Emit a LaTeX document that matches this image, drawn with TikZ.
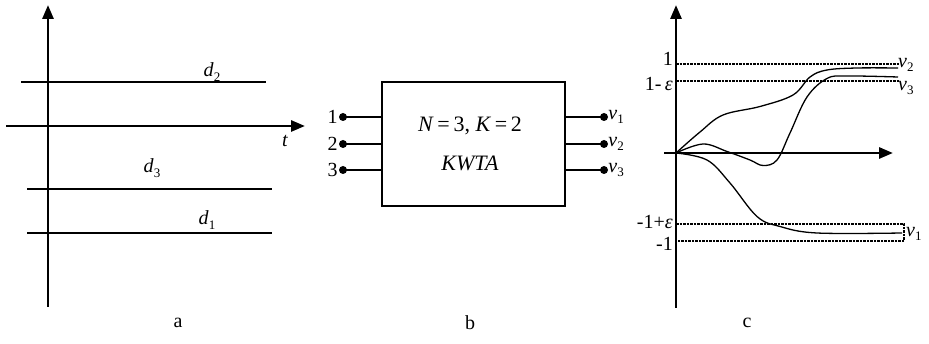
\documentclass[tikz,border=0pt]{standalone}
\usepackage{fontspec}
\setmainfont{Liberation Serif}
\usetikzlibrary{arrows.meta}
\newcommand\lowsub[1]{\raisebox{-0.22em}{\fontsize{13}{13}\selectfont #1}}
\begin{document}
\begin{tikzpicture}[x=1pt,y=-1pt,
  axis/.style={line width=2.8pt,-{Triangle[length=14pt,width=11pt]}},
  level/.style={line width=1.3pt},
  pin/.style={line width=2.8pt},
  dot/.style={circle,fill,inner sep=0pt,minimum size=8pt},
  lab/.style={inner sep=0pt,font=\fontsize{20}{22}\selectfont},
  big/.style={inner sep=0pt,font=\fontsize{22}{24}\selectfont},
  curve/.style={line width=1.3pt},
  dotline/.style={line width=1.2pt,dash pattern=on 2.5pt off 1pt},
]
\useasboundingbox (0,0) rectangle (929,344);
% ---------- panel a ----------
\coordinate (aB) at (48,307);
\coordinate (aT) at (48,5);
\coordinate (aL) at (6,126);
\coordinate (aR) at (305,126);
\draw[axis] (aB) -- (aT);
\draw[axis] (aL) -- (aR);
\coordinate (d2L) at (21,82);  \coordinate (d2R) at (266,82);
\coordinate (d3L) at (27,189); \coordinate (d3R) at (272,189);
\coordinate (d1L) at (27,233); \coordinate (d1R) at (272,233);
\draw[level] (d2L) -- (d2R);
\draw[level] (d3L) -- (d3R);
\draw[level] (d1L) -- (d1R);
\node[lab] (ld2) at (212,72) {\textit{d}\lowsub{2}};
\node[lab] (lt) at (285,141) {\textit{t}};
\node[lab] (ld3) at (152,168) {\textit{d}\lowsub{3}};
\node[lab] (ld1) at (207,220) {\textit{d}\lowsub{1}};
\node[lab] (capa) at (178,323) {a};
% ---------- panel b ----------
\node[draw,line width=1.3pt,minimum width=183pt,minimum height=124pt,inner sep=0pt] (box) at (473.5,144) {};
\node[big] (eq) at (470,126) {\textit{N}\,=\,3, \textit{K}\,=\,2};
\node[big] (kwta) at (470,163) {\textit{KWTA}};
\node[dot] (i1) at (343,117) {};
\node[dot] (i2) at (343,144) {};
\node[dot] (i3) at (343,170) {};
\draw[pin] (i1.center) -- (i1 -| box.west);
\draw[pin] (i2.center) -- (i2 -| box.west);
\draw[pin] (i3.center) -- (i3 -| box.west);
\node[lab,anchor=east] (li1) at ([xshift=-1pt]i1.west) {1};
\node[lab,anchor=east] (li2) at ([xshift=-1pt]i2.west) {2};
\node[lab,anchor=east] (li3) at ([xshift=-1pt]i3.west) {3};
\node[dot] (o1) at (604,117) {};
\node[dot] (o2) at (604,144) {};
\node[dot] (o3) at (604,170) {};
\draw[pin] (o1 -| box.east) -- (o1.center);
\draw[pin] (o2 -| box.east) -- (o2.center);
\draw[pin] (o3 -| box.east) -- (o3.center);
\node[lab,anchor=west] (lo1) at ([xshift=0pt]o1.east) {\textit{v}\lowsub{1}};
\node[lab,anchor=west] (lo2) at ([xshift=0pt]o2.east) {\textit{v}\lowsub{2}};
\node[lab,anchor=west] (lo3) at ([xshift=0pt]o3.east) {\textit{v}\lowsub{3}};
\node[lab] (capb) at (470,323) {b};
% ---------- panel c ----------
\coordinate (cB) at (676,308);
\coordinate (cT) at (676,5);
\coordinate (cL) at (664,153);
\coordinate (cR) at (893,153);
\coordinate (p1L) at (676,64);  \coordinate (p1R) at (899,64);
\coordinate (p2L) at (676,81);  \coordinate (p2R) at (899,81);
\coordinate (m2L) at (676,224); \coordinate (m2R) at (904,224);
\coordinate (m1L) at (676,241); \coordinate (m1R) at (904,241);
\draw[dotline] (p1L) -- (p1R);
\draw[dotline] (p2L) -- (p2R);
\draw[dotline] (m2L) -- (m2R) -- (m1R) -- (m1L);
\draw[axis] (cB) -- (cT);
\draw[axis] (cL) -- (cR);
\draw[curve] plot[smooth,tension=0.6] coordinates {(676,153) (700,132) (723,115) (760,106.5) (793,95) (810,77) (827,70) (857,68) (898,68)};
\draw[curve] plot[smooth,tension=0.6] coordinates {(676,153) (703,144) (727,151.5) (750,160) (763,165.5) (777,160) (790,133) (807,97) (827,78.5) (847,76) (898,77)};
\draw[curve] plot[smooth,tension=0.6] coordinates {(676,153) (707,160) (730,183) (757,216.5) (780,226.5) (817,233) (902,233)};
\node[lab,anchor=east] (lc1) at (673,59) {1};
\node[lab,anchor=east] (lc2) at (673,84) {1-\,\textit{ε}};
\node[lab,anchor=east] (lc3) at (673,222) {-1+\textit{ε}};
\node[lab,anchor=east] (lc4) at (673,244) {-1};
\node[lab,anchor=west] (lv2) at (898,65) {\textit{v}\lowsub{2}};
\node[lab,anchor=west] (lv3) at (898,88) {\textit{v}\lowsub{3}};
\node[lab,anchor=west] (lv1) at (906,234) {\textit{v}\lowsub{1}};
\node[lab] (capc) at (747,323) {c};
\end{tikzpicture}
\end{document}
